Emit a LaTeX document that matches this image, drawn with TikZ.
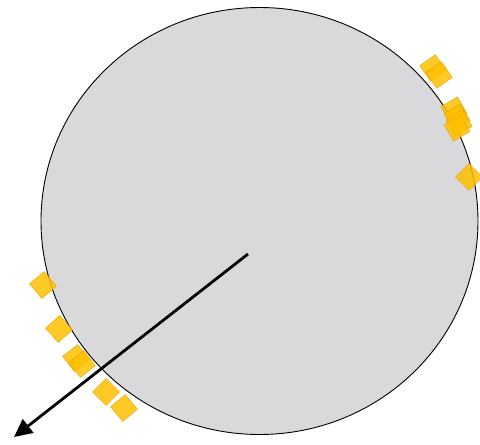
\documentclass[tikz,border=0pt]{standalone}
\usetikzlibrary{arrows.meta, shapes.geometric, positioning}
\definecolor{discgray}{RGB}{217,217,220}
\definecolor{tileyellow}{RGB}{255,192,0}
\definecolor{tileedge}{RGB}{232,168,0}

\begin{document}
\begin{tikzpicture}[x=1pt, y=-1pt,
    disc/.style={ellipse, draw, line width=0.9pt, fill=discgray, minimum width=437pt, minimum height=427pt, inner sep=0pt},
    tile/.style={rectangle, draw=tileedge, fill=tileyellow, fill opacity=0.85, draw opacity=0.85, line width=0.6pt, minimum size=19pt, inner sep=0pt}]
    \useasboundingbox (0,0) rectangle (480,445);
    \node[disc] (wheel) at (259.5,221) {};
    % tiles round the rim
    \foreach \x/\y/\r [count=\i] in {433/68/35, 439/75/35, 454/110/30, 457/117/30, 459/123/30, 457/128/30, 469/177/45,
                                     43/285/40, 59/329/42, 76/358/38, 82/364/38, 106/392/45, 124/408/40}
        \node[tile, rotate=\r] (tile\i) at (\x,\y) {};
    \coordinate (hub) at (248,254);
    \coordinate (tip) at (14,437);
    \draw[line width=2.8pt, -{Triangle[length=18pt, width=17pt]}] (hub) -- (tip);
\end{tikzpicture}
\end{document}
